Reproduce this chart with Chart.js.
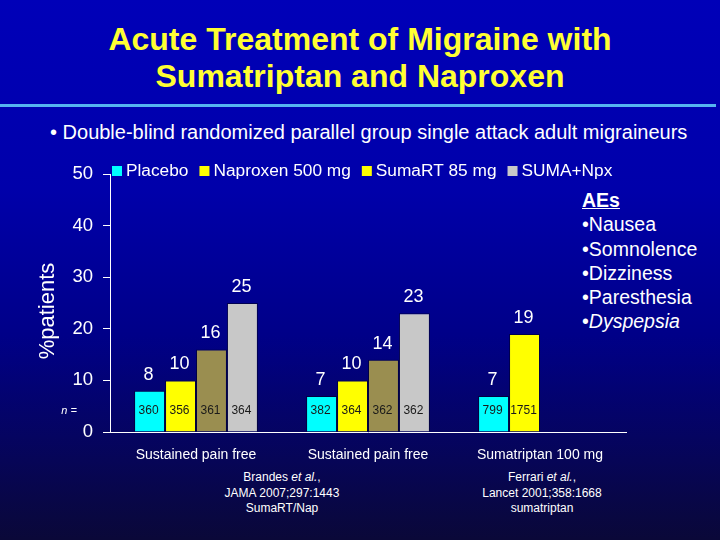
<!DOCTYPE html>
<html lang="en">
<head>
<meta charset="UTF-8">
<title>Acute Treatment of Migraine with Sumatriptan and Naproxen</title>
<script src="https://cdn.jsdelivr.net/npm/chart.js"></script>
<style>
    html, body { margin: 0; padding: 0; }
    body {
        width: 720px; height: 540px; position: relative; overflow: hidden;
        font-family: "Liberation Sans", Arial, sans-serif; color: #fff;
        background: linear-gradient(to bottom, #0000b8 0%, #0000aa 35%, #000088 62%, #0a0838 100%);
    }
    #title {
        position: absolute; left: 0; top: 21px; width: 720px; text-align: center;
        color: #ffff33; font-weight: bold; font-size: 32px; line-height: 37px;
    }
    #rule { position: absolute; left: 0; top: 104px; width: 716px; height: 3px; background: #55b4f0; }
    #subtitle { position: absolute; left: 50px; top: 121px; font-size: 20px; }
    #aes { position: absolute; left: 582px; top: 188px; font-size: 19.5px; line-height: 24.3px; }
    #aes u { font-weight: bold; }
    .ref { position: absolute; top: 470px; width: 200px; text-align: center; font-size: 12px; line-height: 15.5px; }
    #chartBox { position: absolute; left: 0; top: 150px; width: 640px; height: 330px; }
</style>
</head>
<body>
<div id="title">Acute Treatment of Migraine with<br>Sumatriptan and Naproxen</div>
<div id="rule"></div>
<div id="subtitle">• Double-blind randomized parallel group single attack adult migraineurs</div>
<div id="aes"><u>AEs</u><br>•Nausea<br>•Somnolence<br>•Dizziness<br>•Paresthesia<br>•<i>Dyspepsia</i></div>
<div class="ref" style="left:182px">Brandes <i>et al.</i>,<br>JAMA 2007;297:1443<br>SumaRT/Nap</div>
<div class="ref" style="left:442px">Ferrari <i>et al.</i>,<br>Lancet 2001;358:1668<br>sumatriptan</div>
<div id="chartBox"><canvas id="chart"></canvas></div>

<script>
// data
const groups = ['Sustained pain free', 'Sustained pain free', 'Sumatriptan 100 mg'];
const seriesNames = ['Placebo', 'Naproxen 500 mg', 'SumaRT 85 mg', 'SUMA+Npx'];
const placebo = [8, 7, 7];
const naproxen = [10, 10, 19];
const sumaRT = [16, 14, null];
const sumaNpx = [25, 23, null];
const nPlacebo = [360, 382, 799];
const nNaproxen = [356, 364, 1751];
const nSumaRT = [361, 362, null];
const nSumaNpx = [364, 362, null];
const yTicks = [0, 10, 20, 30, 40, 50];

const barColors = ['#00ffff', '#ffff00', '#9a8e50', '#c8c8c8'];
const legendColors = ['#00ffff', '#ffff00', '#ffff00', '#c8c8c8'];
const nCounts = [nPlacebo, nNaproxen, nSumaRT, nSumaNpx];

// value labels, n= counts, axis title and the legend drawn on the canvas
const slideLabels = {
    id: 'slideLabels',
    afterDatasetsDraw(chart) {
        const ctx = chart.ctx;
        const y = chart.scales.y;
        const area = chart.chartArea;
        ctx.save();
        ctx.textAlign = 'center';
        ctx.textBaseline = 'middle';
        chart.data.datasets.forEach((ds, i) => {
            chart.getDatasetMeta(i).data.forEach((bar, j) => {
                if (ds.data[j] == null) return;
                ctx.fillStyle = '#ffffff';
                ctx.font = '18px "Liberation Sans", Arial, sans-serif';
                ctx.fillText(ds.data[j], bar.x - 1, bar.y - 16);
                ctx.fillStyle = '#1a1a1a';
                ctx.font = '12px "Liberation Sans", Arial, sans-serif';
                ctx.fillText(nCounts[i][j], bar.x - 1, y.getPixelForValue(0) - 21);
            });
        });
        ctx.fillStyle = '#ffffff';
        ctx.font = 'italic 11px "Liberation Sans", Arial, sans-serif';
        ctx.fillText('n =', area.left - 41, y.getPixelForValue(0) - 21);

        // y axis title
        ctx.save();
        ctx.translate(48, (area.top + area.bottom) / 2 + 8);
        ctx.rotate(-Math.PI / 2);
        ctx.font = '22px "Liberation Sans", Arial, sans-serif';
        ctx.fillText('%patients', 0, 0);
        ctx.restore();

        // legend row
        ctx.textAlign = 'left';
        ctx.font = '17.3px "Liberation Sans", Arial, sans-serif';
        let x = area.left + 2;
        const ly = area.top - 3;
        chart.data.datasets.forEach((ds, i) => {
            ctx.fillStyle = legendColors[i];
            ctx.fillRect(x, ly - 5, 10, 10);
            ctx.fillStyle = '#ffffff';
            ctx.fillText(ds.label, x + 14, ly);
            x += 14 + ctx.measureText(ds.label).width + 11;
        });
        ctx.restore();
    }
};

new Chart(document.getElementById('chart'), {
    type: 'bar',
    data: {
        labels: groups,
        datasets: [placebo, naproxen, sumaRT, sumaNpx].map((d, i) => ({
            label: seriesNames[i],
            data: d,
            backgroundColor: barColors[i],
            borderColor: 'rgba(0,0,30,0.55)',
            borderWidth: 1,
            barPercentage: 1,
            categoryPercentage: 0.72
        }))
    },
    options: {
        responsive: true,
        maintainAspectRatio: false,
        animation: false,
        layout: { padding: { top: 24, right: 14, left: 0, bottom: 0 } },
        plugins: { legend: { display: false }, tooltip: { enabled: false } },
        scales: {
            x: {
                grid: { display: false },
                border: { color: '#ffffff', width: 1 },
                ticks: { color: '#ffffff', padding: 7, font: { size: 14, family: '"Liberation Sans", Arial' } },
                afterFit(s) { s.height = 48; }
            },
            y: {
                min: 0, max: 50,
                afterBuildTicks(s) { s.ticks = yTicks.map(v => ({ value: v })); },
                grid: { drawOnChartArea: false, color: '#ffffff', tickLength: 7 },
                border: { color: '#ffffff', width: 1 },
                ticks: { color: '#ffffff', padding: 10, font: { size: 18.5, family: '"Liberation Sans", Arial' } },
                afterFit(s) { s.width = 110; }
            }
        }
    },
    plugins: [slideLabels]
});
</script>
</body>
</html>
